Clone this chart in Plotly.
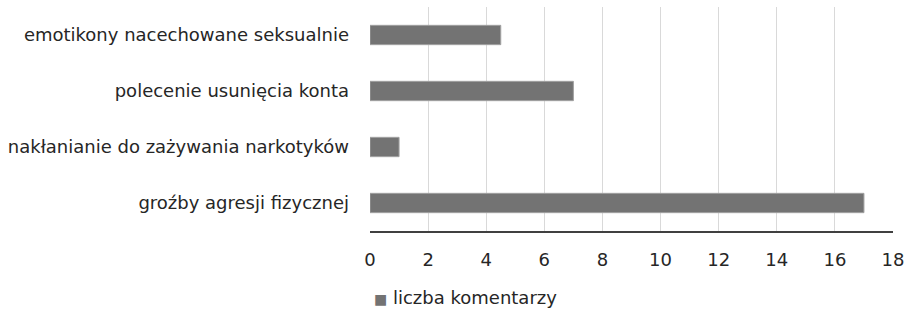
import plotly.graph_objects as go

categories = ["groźby agresji fizycznej", "nakłanianie do zażywania narkotyków",
              "polecenie usunięcia konta", "emotikony nacechowane seksualnie"]
values = [17, 1, 7, 4.5]
series_name = "liczba komentarzy"
x_ticks = [0, 2, 4, 6, 8, 10, 12, 14, 16, 18]
bar_color = "#737373"

fig = go.Figure()
fig.add_trace(go.Bar(
    y=categories, x=values, orientation="h", name=series_name,
    marker=dict(color=bar_color, line=dict(color="#a0a0a0", width=1)),
    showlegend=False,
))

FONT = "DejaVu Sans"
L, R, T, B = 370, 893, 7, 231
fig.update_layout(
    width=907, height=318,
    margin=dict(l=L, r=907 - R, t=T, b=318 - B, autoexpand=False),
    paper_bgcolor="white", plot_bgcolor="white",
    bargap=0.655,
    font=dict(family=FONT, size=18, color="#262626"),
    xaxis=dict(range=[0, 18], tickvals=x_ticks, showgrid=True, gridcolor="#d9d9d9",
               gridwidth=1, zeroline=False, showline=True, linecolor="#404040",
               linewidth=1.5, ticks="", tickfont=dict(size=18, color="#262626"),
               ticklabelstandoff=12, automargin=False, fixedrange=True),
    yaxis=dict(showgrid=False, zeroline=False, showline=False, ticks="",
               tickfont=dict(size=18, color="#262626"), ticklabelstandoff=20,
               automargin=False, fixedrange=True),
    showlegend=False,
)

fig.add_annotation(
    xref="paper", yref="paper", x=(465 - L) / (R - L), y=-(297 - B) / (B - T),
    xanchor="center", yanchor="middle", showarrow=False,
    text=f"<span style='color:{bar_color};font-size:14px'>■</span> {series_name}",
    font=dict(family=FONT, size=18, color="#262626"),
)

fig.write_html(
    "out.html",
    config={"displayModeBar": False, "staticPlot": True},
    post_script="document.body.style.margin='0';document.body.style.overflow='hidden';",
)
